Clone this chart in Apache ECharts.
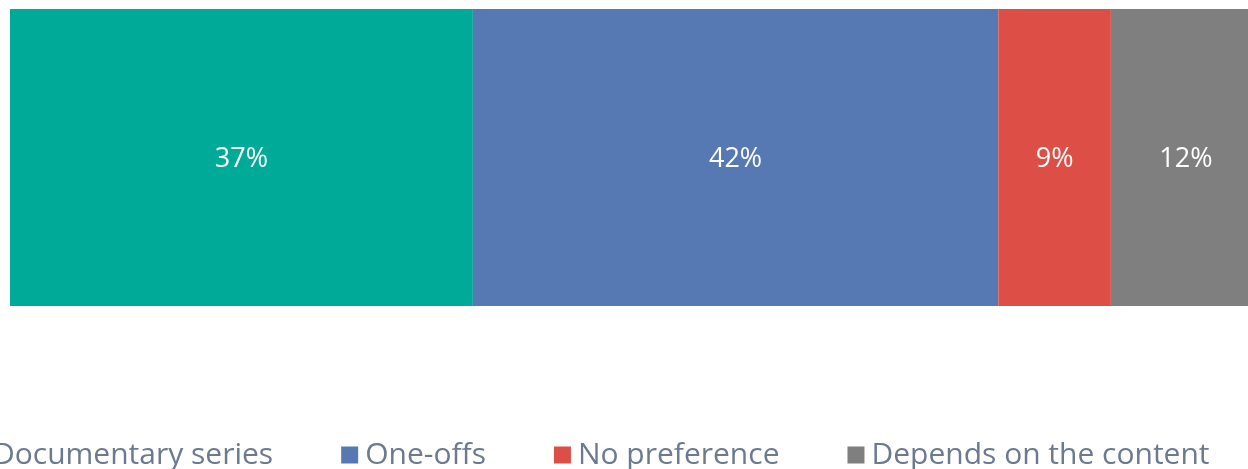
<!DOCTYPE html>
<html>
<head>
<meta charset="utf-8">
<script src="https://cdn.jsdelivr.net/npm/echarts@6/dist/echarts.min.js"></script>
<style>
  html, body { margin: 0; padding: 0; background: #fff; }
  #chart { width: 1248px; height: 469px; }
</style>
</head>
<body>
<div id="chart"></div>
<script>
// données
const categories = ['Preference'];
const seriesNames = ['Documentary series', 'One-offs', 'No preference', 'Depends on the content'];
const seriesValues = [37, 42, 9, 12];
const seriesColors = ['#00AA98', '#5779B3', '#DD4E46', '#7F7F7F'];

var dom = document.getElementById('chart');
var myChart = echarts.init(dom, null, { renderer: 'canvas' });

const series = seriesNames.map(function (name, i) {
    return {
        name: name,
        type: 'bar',
        stack: 'total',
        barWidth: '100%',
        data: [seriesValues[i]],
        itemStyle: { color: seriesColors[i] },
        label: {
            show: true,
            position: 'inside',
            offset: [0, 2],
            formatter: '{c}%',
            color: '#fff',
            fontFamily: 'Open Sans',
            fontSize: 27
        }
    };
});

const option = {
    animation: false,
    // la barre dépasse à droite dans l'original
    grid: { left: 10, width: 1251, top: 9, height: 297, outerBoundsMode: 'none' },
    xAxis: { type: 'value', min: 0, max: 100, show: false },
    yAxis: { type: 'category', data: categories, show: false },
    legend: {
        left: -36,
        top: 435,
        width: 1600,
        icon: 'rect',
        itemWidth: 17,
        itemHeight: 17,
        itemGap: 68,
        data: seriesNames,
        textStyle: {
            color: '#6C7A8F',
            fontFamily: 'Open Sans',
            fontSize: 30,
            lineHeight: 30,
            padding: [0, 0, 0, 2]
        }
    },
    series: series
};

myChart.setOption(option);
window.addEventListener('resize', myChart.resize);
</script>
</body>
</html>
